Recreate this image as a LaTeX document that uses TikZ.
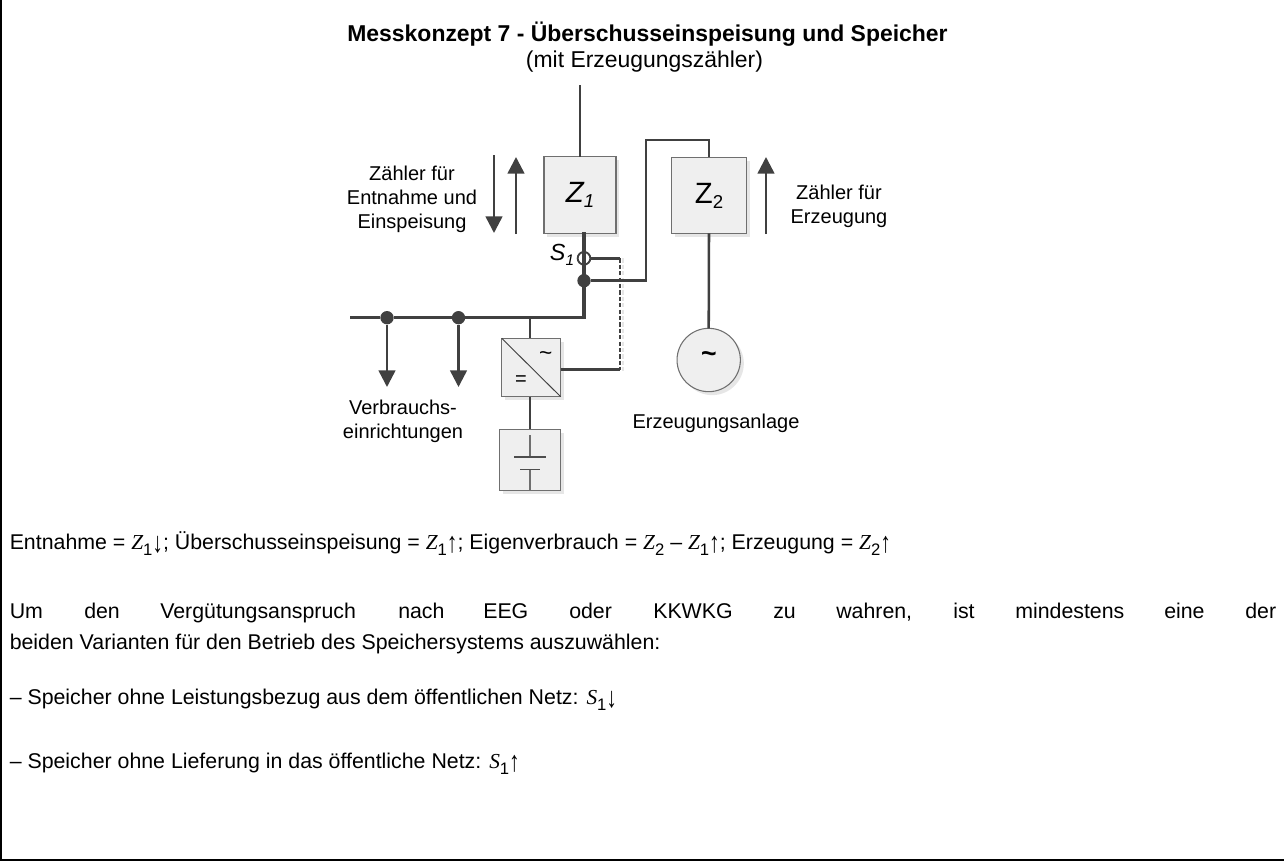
\documentclass[tikz,border=0pt]{standalone}
\usepackage{fontspec}
\setmainfont{Liberation Sans}
\newfontfamily\timesf{Liberation Serif}
\usetikzlibrary{arrows.meta,calc,shadows}
\definecolor{dk}{HTML}{404040}
\definecolor{boxfill}{HTML}{EFEFEF}
\definecolor{boxline}{HTML}{6F6F6F}
\definecolor{shad}{HTML}{E6E6E6}
\newcommand{\vv}[2]{{\timesf\itshape #1}\raisebox{-4.5pt}{\fontsize{12.5}{14}\selectfont #2}}
\newcommand{\ua}{\raisebox{-0.3ex}{\scalebox{1}[1.35]{\timesf ↑}}}
\newcommand{\da}{\raisebox{-0.3ex}{\scalebox{1}[1.35]{\timesf ↓}}}
\tikzset{
  x=0.75pt,y=-0.75pt,
  wire/.style={draw=dk,line width=1.9pt},
  thick wire/.style={draw=dk,line width=2.4pt},
  power/.style={draw=dk,line width=1.9pt,-{Triangle[length=12.5pt,width=12.5pt]}},
  gshad/.style={copy shadow={shadow xshift=2.6pt,shadow yshift=-2.6pt,fill=shad,draw=none}},
  gbox/.style={draw=boxline,fill=boxfill,line width=0.8pt,inner sep=0pt,outer sep=0pt,gshad},
  dot/.style={circle,fill=dk,draw=none,minimum size=10pt,inner sep=0pt},
  lbl/.style={font=\fontsize{15}{18}\selectfont,align=center,inner sep=0pt},
  txt/.style={font=\fontsize{16}{18}\selectfont,anchor=base west,inner sep=0pt},
}
\begin{document}
\begin{tikzpicture}
\useasboundingbox (0,0) rectangle (1284,861);
% frame
\coordinate (fa) at (1,0);
\coordinate (fb) at (1,860);
\coordinate (fc) at (1284,860);
\draw[black,line width=1.5pt] (fa) -- (fb) -- (fc);
% title
\node[font=\bfseries\fontsize{17.2}{20}\selectfont,inner sep=0pt,anchor=base] (title) at (647.5,41) {Messkonzept 7 - Überschusseinspeisung und Speicher};
\node[font=\fontsize{17.2}{20}\selectfont,inner sep=0pt,anchor=base] (sub) at (644.5,67) {(mit Erzeugungszähler)};
% boxes
\node[gbox,minimum width=54pt,minimum height=57.4pt] (z1) at (580,195) {};
\node[gbox,minimum width=56.5pt,minimum height=57pt] (z2) at (709,195.3) {};
\node[font=\itshape\fontsize{22}{24}\selectfont,inner sep=0pt] at (580,195) {Z\raisebox{-0.35ex}{\fontsize{14}{16}\selectfont 1}};
\node[font=\fontsize{22}{24}\selectfont,inner sep=0pt] at (709,196) {Z\raisebox{-0.35ex}{\fontsize{14}{16}\selectfont 2}};
\node[gbox,minimum width=44.2pt,minimum height=43.8pt] (inv) at (531.2,367.5) {};
\draw[dk,line width=0.7pt] (inv.north west) -- (inv.south east);
\node[font=\fontsize{17}{18}\selectfont,inner sep=0pt] at (545.7,356.5) {\char"7E};
\node[font=\fontsize{15}{16}\selectfont,inner sep=0pt] at (521,381) {=};
\node[gbox,minimum width=46.2pt,minimum height=46pt] (bat) at (530,460) {};
\coordinate (bt1) at (530,435);
\coordinate (bt2) at (530,457);
\coordinate (bt3) at (530,469.3);
\coordinate (bt4) at (530,490.7);
\draw[boxline,line width=0.9pt] (bt1) -- (bt2) (bt3) -- (bt4);
\draw[boxline!70!black,line width=0.8pt] (514.3,457) -- (545.7,457) (520.3,469.3) -- (540,469.3);
% generator
\node[circle,gbox,minimum size=47.5pt] (gen) at (708.7,360) {};
\node[font=\bfseries\fontsize{20}{22}\selectfont,inner sep=0pt] at (709,357) {\char"7E};
% wires
\coordinate (bus0) at (350,317.7);
\coordinate (busc) at (584,317.7);
\coordinate (invt) at (530,317.7);
\coordinate (topz1) at (580,85);
\coordinate (e1) at (646,280.7);
\coordinate (e2) at (646,140);
\coordinate (e3) at (709,140);
\coordinate (ctl1) at (620,258.3);
\coordinate (ctl2) at (620,369.5);
\draw[shad,line width=1.7pt,dash pattern=on 3.2pt off 1.6pt] ([xshift=2.2pt]ctl1) -- ([xshift=2.2pt,yshift=-2pt]ctl2);
\node[circle,draw=dk,fill=white,line width=1.4pt,minimum size=9.5pt,inner sep=0pt] (s1) at (584,258.3) {};
\node[dot] (j0) at (584,280.7) {};
\node[dot] (j1) at (387,317.7) {};
\node[dot] (j2) at (458.5,317.7) {};
\draw[wire] (topz1) -- (z1.north);
\draw[thick wire,line cap=rect] (s1 |- z1.south) -- (s1.center) -- (j0.center) -- (busc);
\draw[thick wire] (bus0) -- (j1) -- (j2) -- (busc);
\draw[wire] (j0) -- (e1) -- (e2) -- (e3) -- (z2.north);
\draw[wire] (z2.south) -- (gen.north);
\draw[wire] (invt) -- (inv.north -| invt);
\draw[wire] (inv.south -| invt) -- (bat.north -| invt);
\draw[wire] (s1.east) -- (ctl1);
\draw[wire] (inv.east |- ctl2) -- (ctl2);
\draw[draw=dk,line width=1.9pt,dash pattern=on 3.2pt off 1.6pt] (ctl1) -- (ctl2);
\coordinate (l1) at (387,387);
\coordinate (l2) at (458.5,387);
\draw[power] (j1) -- (l1);
\draw[power] (j2) -- (l2);
% meter arrows
\coordinate (ad1) at (494,155);
\coordinate (ad2) at (494,233);
\coordinate (au1) at (516,234);
\coordinate (au2) at (516,157);
\coordinate (ag1) at (766,234);
\coordinate (ag2) at (766,157);
\draw[power] (ad1) -- (ad2);
\draw[power] (au1) -- (au2);
\draw[power] (ag1) -- (ag2);
% labels
\node[font=\itshape\fontsize{17.5}{20}\selectfont,inner sep=0pt] at (562,255) {S\raisebox{-0.35ex}{\fontsize{11.5}{12}\selectfont 1}};
\node[lbl] at (412,199.5) {Zähler für\\Entnahme und\\Einspeisung};
\node[lbl] at (839,206) {Zähler für\\Erzeugung};
\node[lbl] at (403,421) {Verbrauchs-\\einrichtungen};
\node[lbl] at (716,423) {Erzeugungsanlage};
% text
\node[txt] at (9.5,549) {Entnahme = \vv{Z}{1}\da; Überschusseinspeisung = \vv{Z}{1}\ua; Eigenverbrauch = \vv{Z}{2} – \vv{Z}{1}\ua; Erzeugung = \vv{Z}{2}\ua};
\node[txt] at (9.5,618) {Um};
\node[txt] at (84,618) {den};
\node[txt] at (160,618) {Vergütungsanspruch};
\node[txt] at (398,618) {nach};
\node[txt] at (483,618) {EEG};
\node[txt] at (569,618) {oder};
\node[txt] at (653,618) {KKWKG};
\node[txt] at (773,618) {zu};
\node[txt] at (836,618) {wahren,};
\node[txt] at (953,618) {ist};
\node[txt] at (1015,618) {mindestens};
\node[txt] at (1164,618) {eine};
\node[txt] at (1245,618) {der};
\node[txt] at (9.5,649) {beiden Varianten für den Betrieb des Speichersystems auszuwählen:};
\node[txt] at (9.5,704) {– Speicher ohne Leistungsbezug aus dem öffentlichen Netz: \vv{S}{1}\da};
\node[txt] at (9.5,768) {– Speicher ohne Lieferung in das öffentliche Netz: \vv{S}{1}\ua};
\end{tikzpicture}
\end{document}
